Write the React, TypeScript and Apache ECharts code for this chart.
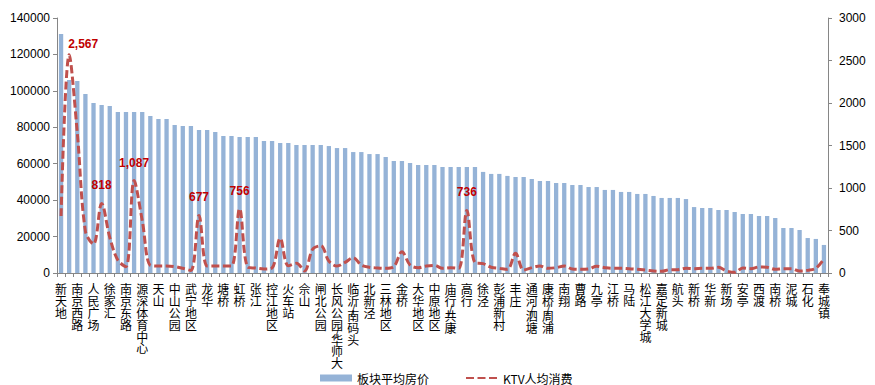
import React, { useEffect, useRef } from "react";
import * as echarts from "echarts";

// District names shown on every other category (even indices)
const districtNames: string[] = [
  "新天地", "南京西路", "人民广场", "徐家汇", "南京东路", "源深体育中心", "天山", "中山公园",
  "武宁地区", "龙华", "塘桥", "虹桥", "张江", "控江地区", "火车站", "佘山",
  "闸北公园", "长风公园/华师大", "临沂/南码头", "北新泾", "三林地区", "金桥", "大华地区", "中原地区",
  "庙行/共康", "高行", "徐泾", "彭浦新村", "丰庄", "通河/泗塘", "康桥/周浦", "南翔",
  "曹路", "九亭", "江桥", "马陆", "松江大学城", "嘉定新城", "航头", "新桥",
  "华新", "新场", "安亭", "西渡", "南桥", "泥城", "石化", "奉城镇",
];

// 板块平均房价 (left axis)
const housePrice: number[] = [
  131200, 106000, 105400, 98300, 93300, 92200, 91700, 88400, 88400, 88400,
  88400, 86200, 84500, 84500, 81200, 80700, 80700, 78500, 78500, 77400,
  75200, 75200, 74700, 74700, 74700, 72500, 72500, 71400, 71400, 70300,
  70300, 70300, 70300, 69700, 68600, 68600, 66400, 66400, 65300, 65300,
  63700, 61500, 61500, 60400, 59300, 59300, 59300, 58200, 58200, 58200,
  58200, 58200, 55500, 54400, 54400, 53300, 52700, 52700, 51600, 50500,
  50500, 49400, 49400, 48300, 48300, 47200, 47200, 45600, 45600, 44500,
  44500, 43400, 43400, 42300, 41200, 41200, 41200, 40600, 36200, 35700,
  35700, 34600, 34600, 33500, 32400, 32400, 31300, 31300, 30200, 24700,
  24700, 23600, 19200, 18700, 15400,
];

// KTV人均消费 (right axis)
const ktvSpend: number[] = [
  670, 2567, 1650, 490, 340, 818, 420, 150, 75, 1087,
  620, 90, 82, 82, 75, 55, 30, 677, 82, 82,
  82, 82, 756, 70, 58, 47, 60, 408, 85, 115,
  25, 280, 320, 140, 82, 125, 180, 94, 67, 59,
  55, 75, 250, 94, 63, 82, 90, 55, 63, 55,
  736, 122, 110, 67, 55, 43, 231, 35, 63, 82,
  55, 63, 82, 47, 43, 47, 78, 63, 55, 55,
  51, 43, 35, 24, 20, 39, 39, 55, 51, 55,
  55, 67, 24, 8, 59, 51, 71, 67, 43, 51,
  51, 24, 31, 55, 165,
];

// indices of line points that carry a value label
const labeledIdx: number[] = [1, 5, 9, 17, 22, 50];

const leftTicks = { min: 0, max: 140000, interval: 20000 };
const rightTicks = { min: 0, max: 3000, interval: 500 };

const categories: string[] = housePrice.map((_, i) =>
  i % 2 === 0 ? districtNames[i / 2] : ""
);

const cjk = "'Noto Sans CJK SC', 'Liberation Sans', sans-serif";
const num = "'Liberation Sans', 'Noto Sans CJK SC', sans-serif";

function verticalName(name: string): string {
  if (!name) return "";
  return name
    .split("")
    .map((c) => (c === "/" ? "{s|/}" : c))
    .join("\n");
}

export default function App() {
  const ref = useRef<HTMLDivElement>(null);

  useEffect(() => {
    if (!ref.current) return;
    const chart = echarts.init(ref.current, undefined, { renderer: "svg" });

    const lineData = ktvSpend.map((v, i) => {
      if (!labeledIdx.includes(i)) return { value: v };
      return {
        value: v,
        label: {
          show: true,
          position: "top",
          distance: 11,
          offset: i === 1 ? [14, 7] : [0, 0],
          color: "#C00000",
          fontWeight: "bold",
          fontSize: 12,
          fontFamily: num,
          formatter: (p: any) => Number(p.value).toLocaleString("en-US"),
        },
      };
    });

    chart.setOption({
      animation: false,
      backgroundColor: "#ffffff",
      grid: { left: 57, right: 47, top: 18, bottom: 112, containLabel: false },
      legend: {
        left: 315,
        top: 367,
        itemWidth: 32,
        itemHeight: 7,
        itemGap: 36,
        textStyle: { fontSize: 12, color: "#000", fontFamily: cjk },
        data: [
          { name: "板块平均房价", icon: "rect" },
          { name: "KTV人均消费" },
        ],
      },
      xAxis: {
        type: "category",
        data: categories,
        boundaryGap: true,
        axisLine: { show: true, lineStyle: { color: "#868686", width: 1 } },
        axisTick: { show: true, interval: 0, length: 4, lineStyle: { color: "#868686" } },
        axisLabel: {
          interval: 1,
          margin: 10,
          fontSize: 12,
          lineHeight: 11.8,
          color: "#000",
          fontFamily: cjk,
          verticalAlign: "top",
          formatter: (v: string) => verticalName(v),
          rich: { s: { fontSize: 12, lineHeight: 3, color: "#000", fontFamily: cjk } },
        },
        splitLine: { show: false },
      },
      yAxis: [
        {
          type: "value",
          ...leftTicks,
          position: "left",
          axisLine: { show: true, lineStyle: { color: "#868686" } },
          axisTick: { show: true, length: 4, lineStyle: { color: "#868686" } },
          axisLabel: {
            color: "#000",
            fontSize: 12,
            margin: 7,
            fontFamily: num,
            formatter: (v: number) => String(v),
          },
          splitLine: { show: false },
        },
        {
          type: "value",
          ...rightTicks,
          position: "right",
          axisLine: { show: true, lineStyle: { color: "#868686" } },
          axisTick: { show: true, length: 4, lineStyle: { color: "#868686" } },
          axisLabel: {
            color: "#000",
            fontSize: 12,
            margin: 11,
            fontFamily: num,
            formatter: (v: number) => String(v),
          },
          splitLine: { show: false },
        },
      ],
      series: [
        {
          name: "板块平均房价",
          type: "bar",
          data: housePrice,
          barWidth: 4.3,
          itemStyle: { color: "#95B3D7" },
          yAxisIndex: 0,
        },
        {
          name: "KTV人均消费",
          type: "line",
          yAxisIndex: 1,
          data: lineData,
          smooth: 0.35,
          symbol: "circle",
          symbolSize: 2,
          showSymbol: true,
          itemStyle: { color: "rgba(192,80,77,0)", borderWidth: 0 },
          lineStyle: { color: "#C0504D", width: 3, type: [8, 3.5] },
          z: 3,
        },
      ],
    });

    return () => chart.dispose();
  }, []);

  return (
    <div
      ref={ref}
      style={{ position: "fixed", left: 0, top: 0, width: 875, height: 385 }}
    />
  );
}
